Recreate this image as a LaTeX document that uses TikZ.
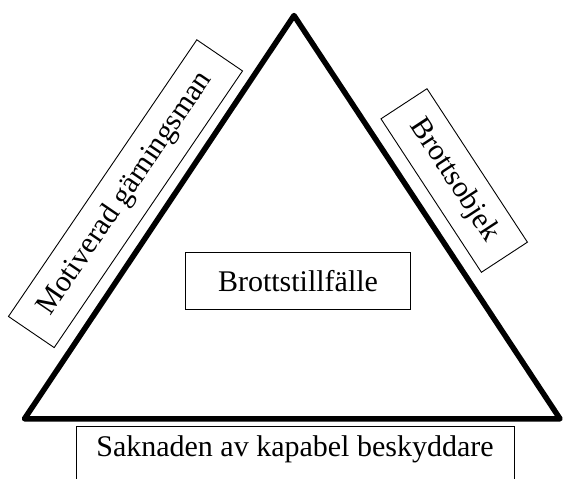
\documentclass[tikz,border=0pt]{standalone}
\usepackage{fontspec}
\setmainfont{Liberation Serif}
\begin{document}
\begin{tikzpicture}[x=1pt,y=-1pt,
  lbl/.style={draw=black,line width=0.9pt,inner sep=0pt,font=\fontsize{30}{36}\selectfont},
  tri/.style={draw=black,line width=5.5pt,line join=round}]
\useasboundingbox (0,0) rectangle (563,479);
\clip (0,0) rectangle (563,479);
\coordinate (apex) at (294,15.5);
\coordinate (bl) at (24.5,418.8);
\coordinate (br) at (560,418.8);
\draw[tri] (apex) -- (bl) -- (br) -- cycle;
\node[lbl,rotate=55.75,minimum width=334.7pt,minimum height=55.3pt] (motiv) at (125.5,193.7) {Motiverad gärningsman};
\node[lbl,rotate=-56.8,minimum width=183.4pt,minimum height=55pt] (objekt) at (454.2,180.5) {Brottsobjek};
\node[lbl,minimum width=225.4pt,minimum height=56.3pt] (tillf) at (298,280.8) {Brottstillfälle};
\node[lbl,anchor=north,minimum width=438pt,text height=30pt,text depth=34pt] (skydd) at (295,426) {Saknaden av kapabel beskyddare};
\end{tikzpicture}
\end{document}
